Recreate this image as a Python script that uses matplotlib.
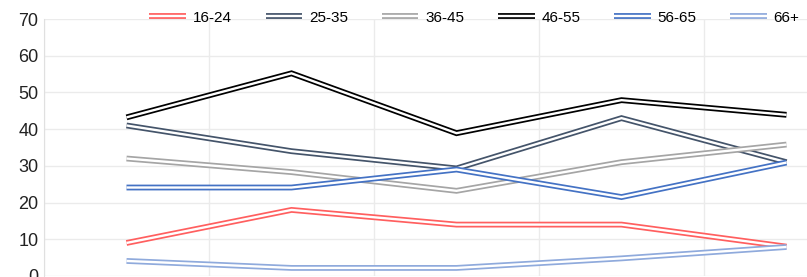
import matplotlib
matplotlib.use('Agg')
import matplotlib.pyplot as plt
import matplotlib.patheffects as pe
import numpy as np

plt.rcParams['font.family'] = ['Liberation Sans', 'DejaVu Sans']

# 資料
categories = ['1', '2', '3', '4', '5']
age_groups = ['16-24', '25-35', '36-45', '46-55', '56-65', '66+']
v_16_24 = [9, 18, 14, 14, 8]
v_25_35 = [41, 34, 29.3, 43, 31]
v_36_45 = [32, 28.3, 23.2, 31, 35.8]
v_46_55 = [43.2, 55.2, 38.9, 47.9, 43.9]
v_56_65 = [24.1, 24.1, 29, 21.5, 30.9]
v_66 = [4.1, 2.2, 2.2, 4.8, 7.9]
series = [v_16_24, v_25_35, v_36_45, v_46_55, v_56_65, v_66]
colors = ['#ff5f5f', '#44546a', '#a5a5a5', '#000000', '#4472c4', '#8faadc']

fig = plt.figure(figsize=(8.07, 2.77), dpi=100, facecolor='white')
ax = fig.add_axes([44 / 807, 1 / 277, 825 / 807, 257 / 277])

x = np.arange(len(categories))
for name, vals, c in zip(age_groups, series, colors):
    ax.plot(x, vals, color='white', lw=1.7, label=name,
            solid_capstyle='butt', solid_joinstyle='miter',
            path_effects=[pe.Stroke(linewidth=4.2, foreground=c), pe.Normal()])

ax.set_xlim(-0.5, len(categories) - 0.5)
ax.set_ylim(0, 70)
ax.set_yticks(range(0, 71, 10))
ax.set_xticks(x)
ax.set_xticklabels([])
ax.set_xticks(np.arange(-0.5, len(categories), 1), minor=True)
ax.tick_params(axis='both', which='both', length=0)
ax.tick_params(axis='y', labelsize=13, colors='#222222', pad=4)
ax.grid(True, axis='y', color='#ebebeb', lw=1)
ax.grid(True, axis='x', which='minor', color='#ebebeb', lw=1)
ax.set_axisbelow(True)
for s in ['top', 'right', 'bottom']:
    ax.spines[s].set_visible(False)
ax.spines['left'].set_color('#e0e0e0')

ax.legend(loc='center', bbox_to_anchor=(0.588, 0.936), bbox_transform=fig.transFigure,
          ncol=6, frameon=False, fontsize=11, handlelength=2.4, handletextpad=0.45,
          columnspacing=2.2)

fig.savefig('out.png', dpi=100, facecolor='white')
